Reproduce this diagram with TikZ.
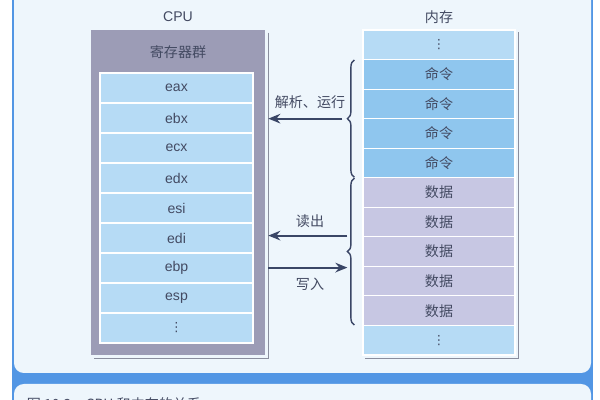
\documentclass[tikz,border=0pt]{standalone}
\usepackage{fontspec}
\setmainfont{Liberation Sans}
\newfontfamily\cjk{Noto Sans CJK SC}
\newfontfamily\dotfont{DejaVu Sans}
\usepackage{tikz}
\usetikzlibrary{arrows.meta, positioning, calc, decorations.pathreplacing}
\definecolor{colFrame}{HTML}{5296E4}
\definecolor{colPanel}{HTML}{EEF6FC}
\definecolor{colCpu}{HTML}{9C9CB6}
\definecolor{colReg}{HTML}{B6DBF5}
\definecolor{colCmd}{HTML}{8FC6EE}
\definecolor{colData}{HTML}{C7C7E3}
\definecolor{colText}{HTML}{434A62}
\definecolor{colArrow}{HTML}{3A4666}
\definecolor{colShadow}{HTML}{8A8E9E}
\newcommand{\boxfont}{\fontsize{10}{12}\selectfont}
\newcommand{\moredots}{{\dotfont\fontsize{9}{9}\selectfont ⋮}}
\tikzset{
	cpubox/.style={fill=colCpu, minimum width=4.35cm, minimum height=8.125cm, inner sep=0pt},
	regbox/.style={draw=white, line width=0.8pt, fill=colReg, minimum width=3.825cm, minimum height=0.75cm, inner sep=0pt, font=\boxfont, text=colText},
	membox/.style={draw=white, line width=0.8pt, fill=#1, minimum width=3.8cm, minimum height=0.7386cm, inner sep=0pt, font=\boxfont\cjk, text=colText},
	headlbl/.style={font=\boxfont, text=colText},
	memarr/.style={-{Stealth[length=3mm, width=2.4mm]}, line width=1.5pt, draw=colArrow},
	brace/.style={decorate, decoration={brace, amplitude=5pt}, draw=colArrow, line width=1pt},
	shadowline/.style={draw=colShadow, line width=0.5pt},
}

\begin{document}
\begin{tikzpicture}[x=0.025cm, y=-0.025cm]
	\useasboundingbox (0,0) rectangle (600,400);
	% frame and panels
	\fill[colFrame] (12,-10) rectangle (593,420);
	\fill[colPanel, rounded corners=7pt] (14,-20) rectangle (591,373);
	\fill[colPanel, rounded corners=7pt] (14,384) rectangle (591,440);
	\node[anchor=west, font=\boxfont\cjk, text=colText] (cap) at (22,404) {图 10.2\quad CPU 和内存的关系};

	% CPU side
	\node[cpubox] (cpu) at (178,192.5) {};
	\draw[shadowline] ($(cpu.north east)+(3,3)$) |- ($(cpu.south west)+(3,3)$);
	\coordinate (cpuedge) at ($(cpu.east)+(3,0)$);
	\node[headlbl] (cpulbl) at (178,17) {CPU};
	\node[headlbl, font=\boxfont\cjk] (reglbl) at (178,52) {寄存器群};
	\foreach \r [count=\i] in {eax, ebx, ecx, edx, esi, edi, ebp, esp, \moredots}
		\node[regbox] (reg\i) at (176.5, 58+30*\i) {\r};

	% memory side
	\node[headlbl, font=\boxfont\cjk] (memlbl) at (439,17) {内存};
	\foreach \t/\c [count=\i] in {\moredots/colReg, 命令/colCmd, 命令/colCmd, 命令/colCmd, 命令/colCmd,
		数据/colData, 数据/colData, 数据/colData, 数据/colData, 数据/colData, \moredots/colReg}
		\node[membox=\c] (mem\i) at (439, 30+29.545*\i-14.77) {\t};
	\draw[shadowline] ($(mem1.north east)+(3,3)$) |- ($(mem11.south west)+(3,3)$);

	% braces
	\draw[brace] ($(mem5.south west)+(-8,-1)$) -- ($(mem2.north west)+(-8,1)$);
	\draw[brace] ($(mem10.south west)+(-8,-1)$) -- ($(mem6.north west)+(-8,1)$);
	\coordinate (cmdtip) at ($(mem2.north west)!0.5!(mem5.south west) + (-20,0)$);
	\coordinate (datatip) at ($(mem6.north west)!0.5!(mem10.south west) + (-15,0)$);
	\coordinate (rdpt) at ($(datatip)+(0,-16)$);
	\coordinate (wrpt) at ($(datatip)+(0,16)$);

	% arrows
	\draw[memarr] (cmdtip) -- (cmdtip -| cpuedge);
	\draw[memarr] (rdpt) -- (rdpt -| cpuedge);
	\draw[memarr] (wrpt -| cpuedge) -- (wrpt);
	\node[headlbl, font=\boxfont\cjk] (runlbl) at (310,102) {解析、运行};
	\node[headlbl, font=\boxfont\cjk] (rdlbl) at (310,221) {读出};
	\node[headlbl, font=\boxfont\cjk] (wrlbl) at (310,284) {写入};
\end{tikzpicture}
\end{document}
